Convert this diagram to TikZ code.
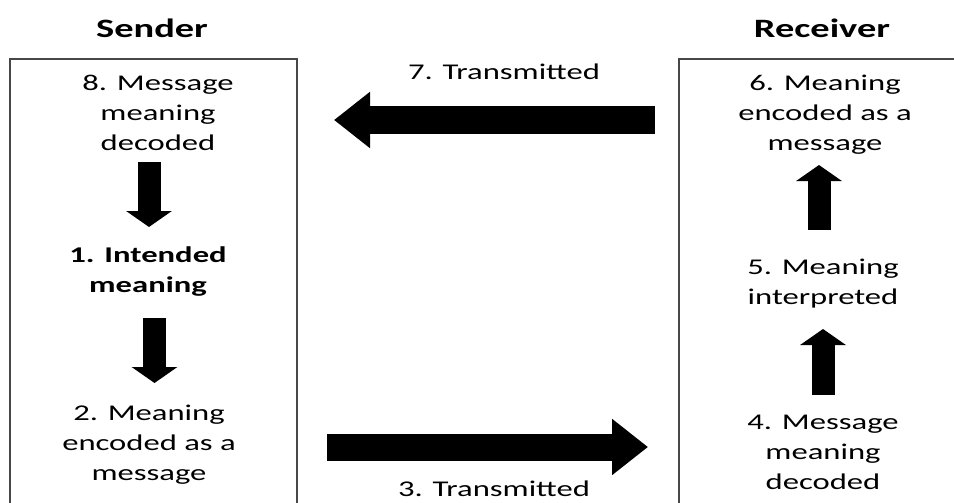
\documentclass[tikz,border=0pt]{standalone}
\usepackage{fontspec}
\setmainfont{Carlito}[FakeStretch=1.45]
\usetikzlibrary{arrows.meta}
\begin{document}
\begin{tikzpicture}[x=1pt,y=-1pt,
  lbl/.style={align=center, font=\fontsize{22.5}{30}\selectfont, inner sep=0pt},
  title/.style={font=\fontsize{26.5}{32}\selectfont\bfseries, inner sep=0pt},
  frame/.style={draw=black!72, line width=1.3pt},
  vblock/.style={line width=23pt, -{Triangle[length=16pt,width=45pt]}},
  hblock/.style={line width=27pt, -{Triangle[length=36pt,width=54pt]}}
]
\useasboundingbox (0,0) rectangle (954,503);
\clip (0,0) rectangle (954,503);

% party frames (open at the bottom / right edge)
\draw[frame] (10,520) -- (10,59) -- (297,59) -- (297,520);
\draw[frame] (679,520) -- (679,59) -- (970,59);

% headings
\node[title] (sender) at (152,28) {Sender};
\node[title] (receiver) at (822,28) {Receiver};

% sender side
\node[lbl] (s8) at (158,113) {8. Message\\meaning\\decoded};
\node[lbl] (s1) at (148,272) {\bfseries 1. Intended\\\bfseries meaning};
\node[lbl] (s2) at (149,445) {2. Meaning\\encoded as a\\message};

% receiver side
\node[lbl] (r6) at (825,115) {6. Meaning\\encoded as a\\message};
\node[lbl] (r5) at (823,284) {5. Meaning\\interpreted};
\node[lbl] (r4) at (823,452) {4. Message\\meaning\\decoded};

% transmission labels
\node[lbl] (t7) at (504,72) {7. Transmitted};
\node[lbl] (t3) at (494,489) {3. Transmitted};

% arrow end points
\coordinate (a8) at (149,162);  \coordinate (b1) at (149,227);
\coordinate (a1) at (154.5,318); \coordinate (b2) at (154.5,383);
\coordinate (a4) at (823,395);  \coordinate (b5) at (823,329);
\coordinate (a5) at (819,230);  \coordinate (b6) at (819,165);
\coordinate (tx2) at (327,447); \coordinate (rx4) at (648,447);
\coordinate (tx6) at (655,120); \coordinate (rx8) at (334,120);

% flow arrows
\draw[vblock] (a8) -- (b1);
\draw[vblock] (a1) -- (b2);
\draw[vblock] (a4) -- (b5);
\draw[vblock] (a5) -- (b6);
\draw[hblock] (tx2) -- (rx4);
\draw[hblock] (tx6) -- (rx8);
\end{tikzpicture}
\end{document}
